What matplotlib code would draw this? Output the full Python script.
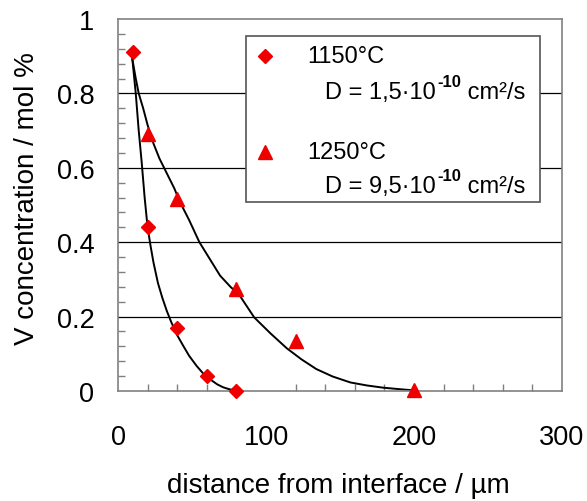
import matplotlib
matplotlib.use("Agg")
import matplotlib.pyplot as plt
from matplotlib.patches import Rectangle
from matplotlib.ticker import MultipleLocator

plt.rcParams['font.family'] = ['Liberation Sans', 'DejaVu Sans']

# ─── Data ────────────────────────────────────────────────────────────────────
x_1150 = [10, 20, 40, 60, 80]
y_1150 = [0.91, 0.44, 0.17, 0.04, 0.0]

x_1250 = [20, 40, 80, 120, 200]
y_1250 = [0.69, 0.515, 0.275, 0.135, 0.003]

# fitted curves, traced point by point
fit_x_1150 = [9.7, 12, 14, 16, 18, 20, 22, 24, 27, 30, 33, 36, 40, 44, 48,
              53, 58, 62, 67, 71, 75, 80]
fit_y_1150 = [0.892, 0.80, 0.70, 0.615, 0.52, 0.44, 0.39, 0.345, 0.29, 0.25,
              0.215, 0.185, 0.15, 0.122, 0.095, 0.068, 0.045, 0.032, 0.018,
              0.010, 0.005, 0.0]

fit_x_1250 = [9.7, 12, 14, 17, 20, 24, 28, 33, 38, 42, 48, 55, 62, 69, 76,
              82, 92, 103, 114, 124, 134, 145, 157, 168, 179, 190, 199]
fit_y_1250 = [0.892, 0.84, 0.80, 0.76, 0.715, 0.665, 0.625, 0.585, 0.545,
              0.507, 0.46, 0.40, 0.355, 0.31, 0.28, 0.258, 0.198, 0.155,
              0.115, 0.085, 0.059, 0.039, 0.023, 0.015, 0.009, 0.005, 0.002]

legend_temps = ['1150°C', '1250°C']
legend_mant = ['D = 1,5·10', 'D = 9,5·10']
legend_exp = ['-10', '-10']
legend_unit = [' cm²/s', ' cm²/s']

RED = '#ee0000'
GRAY = '#808080'

fig = plt.figure(figsize=(5.87, 5.02), dpi=100)
ax = fig.add_axes([118 / 587, 1 - 392 / 502, (562 - 118) / 587, (392 - 20) / 502])

ax.set_xlim(0, 300)
ax.set_ylim(0, 1)

# horizontal grid
for g in [0.2, 0.4, 0.6, 0.8]:
    ax.axhline(g, color='black', lw=0.9, zorder=1)

ax.plot(fit_x_1150, fit_y_1150, color='black', lw=1.4, zorder=2)
ax.plot(fit_x_1250, fit_y_1250, color='black', lw=1.4, zorder=2)
ax.plot(x_1150, y_1150, 'D', color=RED, ms=7, mec=RED, ls='none',
        zorder=3, clip_on=False)
ax.plot(x_1250, y_1250, '^', color=RED, ms=9.5, mec=RED, ls='none',
        zorder=3, clip_on=False)

ax.xaxis.set_major_locator(MultipleLocator(100))
ax.xaxis.set_minor_locator(MultipleLocator(20))
ax.yaxis.set_minor_locator(MultipleLocator(0.04))
ax.set_yticks([0, 0.2, 0.4, 0.6, 0.8, 1.0])
ax.set_yticklabels(['0', '0.2', '0.4', '0.6', '0.8', '1'])

ax.tick_params(which='both', direction='in', color=GRAY, width=1,
               labelsize=19.5, top=False, right=False)
ax.tick_params(which='major', length=0)
ax.tick_params(which='minor', length=5)
ax.tick_params(axis='x', which='major', pad=24)
ax.tick_params(axis='y', which='major', pad=17)

for s in ax.spines.values():
    s.set_color(GRAY)
    s.set_linewidth(1.2)

ax.set_xlabel('distance from interface / µm', fontsize=20)
ax.set_ylabel('V concentration / mol %', fontsize=20)
ax.xaxis.set_label_coords(0.497, -0.218)
ax.yaxis.set_label_coords(-0.175, 0.52)

# ─── Legend box, drawn by hand ───────────────────────────────────────────────
def px(xp, yp):
    return ((xp - 118) / 444, (392 - yp) / 372)

x0, y0 = px(246, 203)
x1, y1 = px(540, 37)
ax.add_patch(Rectangle((x0, y0), x1 - x0, y1 - y0, transform=ax.transAxes,
                       facecolor='white', edgecolor='#555555', lw=1.2, zorder=4))

rows = [(57, 93, 'D', 7), (153, 187, '^', 9.5)]
for i, (yt, yd, mk, ms) in enumerate(rows):
    mx, my = px(265, yt)
    ax.plot([mx], [my], mk, color=RED, mec=RED, ms=ms, transform=ax.transAxes,
            zorder=5, clip_on=False)
    tx, ty = px(307, yt)
    ax.text(tx, ty, legend_temps[i], transform=ax.transAxes, fontsize=17,
            va='center', ha='left', zorder=5)
    cx, cy = px(325, yd)
    t1 = ax.text(cx, cy, legend_mant[i], transform=ax.transAxes, fontsize=17,
                 va='center', ha='left', zorder=5)
    t2 = ax.annotate(legend_exp[i], xy=(1.0, 0.62), xycoords=t1, xytext=(1, 0),
                     textcoords='offset points', fontsize=12,
                     fontweight='bold', va='bottom', ha='left', zorder=5)
    ax.annotate(legend_unit[i], xy=(1.0, 0.0), xycoords=(t2, t1), fontsize=17,
                va='bottom', ha='left', zorder=5)

fig.savefig('out.png', dpi=100)
